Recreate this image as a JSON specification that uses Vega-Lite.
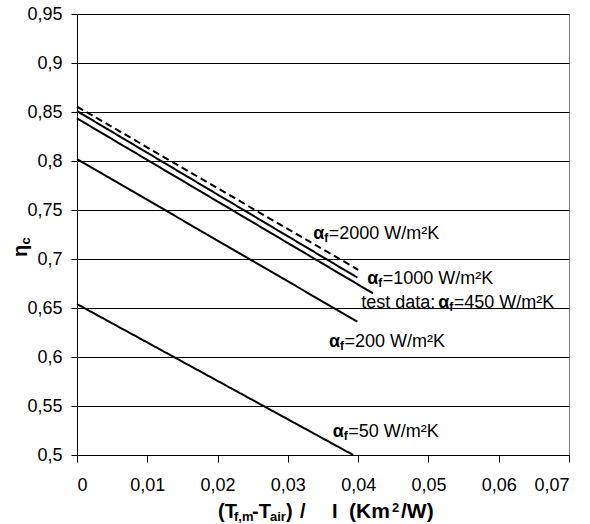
{
  "$schema": "https://vega.github.io/schema/vega-lite/v6.json",
  "width": 492,
  "height": 441,
  "autosize": "none",
  "padding": {"left": 77, "top": 14, "right": 21, "bottom": 69},
  "background": "white",
  "config": {
    "font": "Liberation Sans",
    "view": {"stroke": "#808080", "strokeWidth": 1},
    "axis": {"labelFont": "Liberation Sans", "labelFontSize": 18, "labelColor": "black", "domainColor": "black", "tickColor": "black", "domainWidth": 1, "tickWidth": 1}
  },
  "datasets": {
    "lines": [
      {"series": "a50", "x": 0, "y": 0.654},
      {"series": "a50", "x": 0.0393, "y": 0.5},
      {"series": "a200", "x": 0, "y": 0.802},
      {"series": "a200", "x": 0.0399, "y": 0.636},
      {"series": "test450", "x": 0, "y": 0.8435},
      {"series": "test450", "x": 0.0421, "y": 0.665},
      {"series": "a1000", "x": 0, "y": 0.851},
      {"series": "a1000", "x": 0.0399, "y": 0.681},
      {"series": "a2000", "x": 0, "y": 0.8555},
      {"series": "a2000", "x": 0.04, "y": 0.689}
    ],
    "labels": [
      {"series": "a2000", "prefix": "", "value": "=2000 W/m²K", "lx": 0.0336, "ly": 0.7204},
      {"series": "a1000", "prefix": "", "value": "=1000 W/m²K", "lx": 0.0413, "ly": 0.6745},
      {"series": "test450", "prefix": "test data:", "value": "=450 W/m²K", "lx": 0.0514, "ly": 0.6497},
      {"series": "a200", "prefix": "", "value": "=200 W/m²K", "lx": 0.03585, "ly": 0.6099},
      {"series": "a50", "prefix": "", "value": "=50 W/m²K", "lx": 0.03637, "ly": 0.5187}
    ],
    "xtitle": [{"ax": 0.02006, "ay": 0.4362}],
    "ytitle": [{"ax": -0.0071, "ay": 0.702}]
  },
  "layer": [
    {
      "data": {"name": "lines"},
      "mark": {"type": "line", "color": "black", "clip": false},
      "encoding": {
        "x": {"field": "x", "type": "quantitative", "scale": {"domain": [0, 0.07], "nice": false, "zero": false},
          "axis": {"title": null, "values": [0, 0.01, 0.02, 0.03, 0.04, 0.05, 0.06, 0.07], "grid": false, "tickSize": 7, "labelPadding": 14,
            "labelExpr": "replace(format(datum.value, '.2~f'), '.', ',')"}},
        "y": {"field": "y", "type": "quantitative", "scale": {"domain": [0.5, 0.95], "nice": false, "zero": false},
          "axis": {"title": null, "values": [0.5, 0.55, 0.6, 0.65, 0.7, 0.75, 0.8, 0.85, 0.9, 0.95], "grid": true, "gridColor": "black", "gridOpacity": 1, "gridWidth": 1, "tickSize": 6, "labelPadding": 9,
            "labelExpr": "replace(format(datum.value, '.2~f'), '.', ',')"}},
        "detail": {"field": "series"},
        "strokeWidth": {"field": "series", "type": "nominal", "scale": {"domain": ["a50", "a200", "test450", "a1000", "a2000"], "range": [2, 2, 2, 1, 1]}, "legend": null},
        "strokeDash": {"field": "series", "type": "nominal", "scale": {"domain": ["a50", "a200", "test450", "a1000", "a2000"], "range": [[1, 0], [1, 0], [1, 0], [1, 0], [7, 4]]}, "legend": null}
      }
    },
    {
      "data": {"name": "labels"},
      "mark": {"type": "text", "text": "α", "fontSize": 18, "fontWeight": "bold", "align": "left", "baseline": "alphabetic", "color": "black"},
      "encoding": {
        "x": {"field": "lx", "type": "quantitative", "scale": {"domain": [0, 0.07], "nice": false, "zero": false}},
        "y": {"field": "ly", "type": "quantitative", "scale": {"domain": [0.5, 0.95], "nice": false, "zero": false}}
      }
    },
    {
      "data": {"name": "labels"},
      "mark": {"type": "text", "text": "f", "fontSize": 12, "fontWeight": "bold", "align": "left", "baseline": "alphabetic", "dx": 11, "dy": 3, "color": "black"},
      "encoding": {
        "x": {"field": "lx", "type": "quantitative", "scale": {"domain": [0, 0.07], "nice": false, "zero": false}},
        "y": {"field": "ly", "type": "quantitative", "scale": {"domain": [0.5, 0.95], "nice": false, "zero": false}}
      }
    },
    {
      "data": {"name": "labels"},
      "mark": {"type": "text", "fontSize": 18, "align": "left", "baseline": "alphabetic", "dx": 15.5, "color": "black"},
      "encoding": {
        "x": {"field": "lx", "type": "quantitative", "scale": {"domain": [0, 0.07], "nice": false, "zero": false}},
        "y": {"field": "ly", "type": "quantitative", "scale": {"domain": [0.5, 0.95], "nice": false, "zero": false}},
        "text": {"field": "value"}
      }
    },
    {
      "data": {"name": "labels"},
      "mark": {"type": "text", "fontSize": 18, "align": "right", "baseline": "alphabetic", "dx": -3, "color": "black"},
      "encoding": {
        "x": {"field": "lx", "type": "quantitative", "scale": {"domain": [0, 0.07], "nice": false, "zero": false}},
        "y": {"field": "ly", "type": "quantitative", "scale": {"domain": [0.5, 0.95], "nice": false, "zero": false}},
        "text": {"field": "prefix"}
      }
    },
    {
      "data": {"name": "ytitle"},
      "mark": {"type": "text", "text": "η", "fontSize": 20, "fontWeight": "bold", "angle": 270, "align": "left", "baseline": "alphabetic", "color": "black"},
      "encoding": {
        "x": {"field": "ax", "type": "quantitative", "scale": {"domain": [0, 0.07], "nice": false, "zero": false}},
        "y": {"field": "ay", "type": "quantitative", "scale": {"domain": [0.5, 0.95], "nice": false, "zero": false}}
      }
    },
    {
      "data": {"name": "ytitle"},
      "mark": {"type": "text", "text": "c", "fontSize": 13, "fontWeight": "bold", "angle": 270, "align": "left", "baseline": "alphabetic", "dx": 12.5, "dy": 3, "color": "black"},
      "encoding": {
        "x": {"field": "ax", "type": "quantitative", "scale": {"domain": [0, 0.07], "nice": false, "zero": false}},
        "y": {"field": "ay", "type": "quantitative", "scale": {"domain": [0.5, 0.95], "nice": false, "zero": false}}
      }
    },
    {
      "data": {"name": "xtitle"},
      "mark": {"type": "text", "text": "(T", "fontSize": 20, "fontWeight": "bold", "align": "left", "baseline": "alphabetic", "dx": 0, "color": "black"},
      "encoding": {
        "x": {"field": "ax", "type": "quantitative", "scale": {"domain": [0, 0.07], "nice": false, "zero": false}},
        "y": {"field": "ay", "type": "quantitative", "scale": {"domain": [0.5, 0.95], "nice": false, "zero": false}}
      }
    },
    {
      "data": {"name": "xtitle"},
      "mark": {"type": "text", "text": "f,m", "fontSize": 13, "fontWeight": "bold", "align": "left", "baseline": "alphabetic", "dx": 16, "dy": 3.5, "color": "black"},
      "encoding": {
        "x": {"field": "ax", "type": "quantitative", "scale": {"domain": [0, 0.07], "nice": false, "zero": false}},
        "y": {"field": "ay", "type": "quantitative", "scale": {"domain": [0.5, 0.95], "nice": false, "zero": false}}
      }
    },
    {
      "data": {"name": "xtitle"},
      "mark": {"type": "text", "text": "-T", "fontSize": 20, "fontWeight": "bold", "align": "left", "baseline": "alphabetic", "dx": 34, "color": "black"},
      "encoding": {
        "x": {"field": "ax", "type": "quantitative", "scale": {"domain": [0, 0.07], "nice": false, "zero": false}},
        "y": {"field": "ay", "type": "quantitative", "scale": {"domain": [0.5, 0.95], "nice": false, "zero": false}}
      }
    },
    {
      "data": {"name": "xtitle"},
      "mark": {"type": "text", "text": "air", "fontSize": 13, "fontWeight": "bold", "align": "left", "baseline": "alphabetic", "dx": 52, "dy": 3.5, "color": "black"},
      "encoding": {
        "x": {"field": "ax", "type": "quantitative", "scale": {"domain": [0, 0.07], "nice": false, "zero": false}},
        "y": {"field": "ay", "type": "quantitative", "scale": {"domain": [0.5, 0.95], "nice": false, "zero": false}}
      }
    },
    {
      "data": {"name": "xtitle"},
      "mark": {"type": "text", "text": ")", "fontSize": 20, "fontWeight": "bold", "align": "left", "baseline": "alphabetic", "dx": 68, "color": "black"},
      "encoding": {
        "x": {"field": "ax", "type": "quantitative", "scale": {"domain": [0, 0.07], "nice": false, "zero": false}},
        "y": {"field": "ay", "type": "quantitative", "scale": {"domain": [0.5, 0.95], "nice": false, "zero": false}}
      }
    },
    {
      "data": {"name": "xtitle"},
      "mark": {"type": "text", "text": "/", "fontSize": 20, "fontWeight": "bold", "align": "left", "baseline": "alphabetic", "dx": 82, "color": "black"},
      "encoding": {
        "x": {"field": "ax", "type": "quantitative", "scale": {"domain": [0, 0.07], "nice": false, "zero": false}},
        "y": {"field": "ay", "type": "quantitative", "scale": {"domain": [0.5, 0.95], "nice": false, "zero": false}}
      }
    },
    {
      "data": {"name": "xtitle"},
      "mark": {"type": "text", "text": "I", "fontSize": 20, "fontWeight": "bold", "align": "left", "baseline": "alphabetic", "dx": 114, "color": "black"},
      "encoding": {
        "x": {"field": "ax", "type": "quantitative", "scale": {"domain": [0, 0.07], "nice": false, "zero": false}},
        "y": {"field": "ay", "type": "quantitative", "scale": {"domain": [0.5, 0.95], "nice": false, "zero": false}}
      }
    },
    {
      "data": {"name": "xtitle"},
      "mark": {"type": "text", "text": "(Km", "fontSize": 21, "fontWeight": "bold", "align": "left", "baseline": "alphabetic", "dx": 131, "color": "black"},
      "encoding": {
        "x": {"field": "ax", "type": "quantitative", "scale": {"domain": [0, 0.07], "nice": false, "zero": false}},
        "y": {"field": "ay", "type": "quantitative", "scale": {"domain": [0.5, 0.95], "nice": false, "zero": false}}
      }
    },
    {
      "data": {"name": "xtitle"},
      "mark": {"type": "text", "text": "2", "fontSize": 13, "fontWeight": "bold", "align": "left", "baseline": "alphabetic", "dx": 174, "dy": -6, "color": "black"},
      "encoding": {
        "x": {"field": "ax", "type": "quantitative", "scale": {"domain": [0, 0.07], "nice": false, "zero": false}},
        "y": {"field": "ay", "type": "quantitative", "scale": {"domain": [0.5, 0.95], "nice": false, "zero": false}}
      }
    },
    {
      "data": {"name": "xtitle"},
      "mark": {"type": "text", "text": "/W)", "fontSize": 21, "fontWeight": "bold", "align": "left", "baseline": "alphabetic", "dx": 183, "color": "black"},
      "encoding": {
        "x": {"field": "ax", "type": "quantitative", "scale": {"domain": [0, 0.07], "nice": false, "zero": false}},
        "y": {"field": "ay", "type": "quantitative", "scale": {"domain": [0.5, 0.95], "nice": false, "zero": false}}
      }
    }
  ]
}
